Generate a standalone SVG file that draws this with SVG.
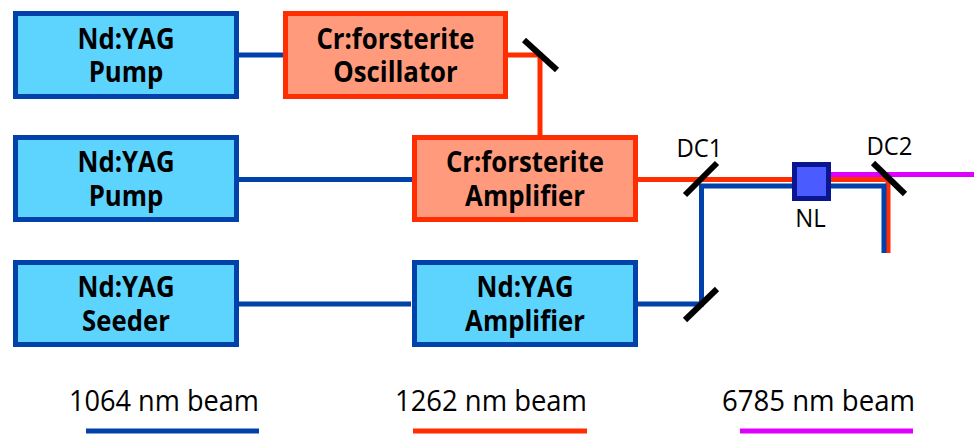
<svg xmlns="http://www.w3.org/2000/svg" width="974" height="434" viewBox="0 0 974 434">
<style>
.bb{fill:#5dd4fe;stroke:#0041aa;stroke-width:5}
.rb{fill:#ff9b7c;stroke:#ff2d00;stroke-width:5}
.bl{font-family:"Open Sans","Noto Sans",sans-serif;font-weight:bold;font-size:28px;fill:#000;text-anchor:middle}
.lb{font-family:"Open Sans","Noto Sans",sans-serif;font-size:26px;fill:#000;text-anchor:middle}
.lg{font-family:"Open Sans","Noto Sans",sans-serif;font-size:29px;fill:#000}
.b{stroke:#0041aa;stroke-width:5;fill:none}
.r{stroke:#ff2d00;stroke-width:5;fill:none}
.m{stroke:#dd00ff;stroke-width:5;fill:none}
.mir{stroke:#000;stroke-width:6;fill:none}
</style>
<g id="connectors">
<line class="b" x1="239" y1="55" x2="283" y2="55"/>
<polyline class="r" points="508,55 540,55 540,135"/>
<line class="b" x1="239" y1="179.5" x2="412" y2="179.5"/>
<line class="b" x1="239" y1="304" x2="411" y2="304"/>
<polyline class="r" points="638,179.5 888,179.5 888,253"/>
<polyline class="b" points="638,304 701.5,304 701.5,186 884,186 884,253"/>
<line class="m" x1="831" y1="174.5" x2="974" y2="174.5"/>
<line class="b" x1="86" y1="431" x2="259" y2="431"/>
<line class="r" x1="413" y1="431" x2="587" y2="431"/>
<line class="m" x1="740" y1="431" x2="913" y2="431"/>
</g>
<g id="mirror-top"><line class="mir" x1="524" y1="40" x2="557" y2="70"/></g>
<g id="DC1"><line class="mir" x1="685" y1="195" x2="717" y2="163"/><text class="lb" transform="translate(699.5 157) scale(0.92 1)">DC1</text></g>
<g id="mirror-bottom"><line class="mir" x1="685" y1="320" x2="717" y2="289"/></g>
<g id="DC2"><line class="mir" x1="873" y1="163" x2="905" y2="194"/><text class="lb" transform="translate(889.5 155) scale(0.92 1)">DC2</text></g>
<g id="NL"><rect x="794.5" y="164.5" width="34" height="34" fill="#4a5cff" stroke="#0a1690" stroke-width="5"/><text class="lb" transform="translate(810.5 226.5) scale(0.92 1)">NL</text></g>
<g id="pump1"><rect class="bb" x="15.5" y="13.5" width="221" height="83"/>
<text class="bl" transform="translate(126 48.5) scale(0.92 1)">Nd:YAG</text><text class="bl" transform="translate(126 82) scale(0.92 1)">Pump</text></g>
<g id="oscillator"><rect class="rb" x="285.5" y="13.5" width="220" height="83"/>
<text class="bl" transform="translate(395.5 48.5) scale(0.92 1)">Cr:forsterite</text><text class="bl" transform="translate(395.5 82) scale(0.92 1)">Oscillator</text></g>
<g id="pump2"><rect class="bb" x="15.5" y="137.5" width="221" height="82"/>
<text class="bl" transform="translate(126 172) scale(0.92 1)">Nd:YAG</text><text class="bl" transform="translate(126 205.5) scale(0.92 1)">Pump</text></g>
<g id="cr-amplifier"><rect class="rb" x="414.5" y="137.5" width="221" height="82"/>
<text class="bl" transform="translate(525 172) scale(0.92 1)">Cr:forsterite</text><text class="bl" transform="translate(525 205.5) scale(0.92 1)">Amplifier</text></g>
<g id="seeder"><rect class="bb" x="15.5" y="262.5" width="221" height="82"/>
<text class="bl" transform="translate(126 297) scale(0.92 1)">Nd:YAG</text><text class="bl" transform="translate(126 330.5) scale(0.92 1)">Seeder</text></g>
<g id="ndyag-amplifier"><rect class="bb" x="414.5" y="262.5" width="221" height="82"/>
<text class="bl" transform="translate(525 297) scale(0.92 1)">Nd:YAG</text><text class="bl" transform="translate(525 330.5) scale(0.92 1)">Amplifier</text></g>
<g id="legend">
<text class="lg" x="69" y="411" textLength="190" lengthAdjust="spacingAndGlyphs">1064 nm beam</text>
<text class="lg" x="395" y="411" textLength="192" lengthAdjust="spacingAndGlyphs">1262 nm beam</text>
<text class="lg" x="722" y="411" textLength="193" lengthAdjust="spacingAndGlyphs">6785 nm beam</text>
</g>
</svg>
